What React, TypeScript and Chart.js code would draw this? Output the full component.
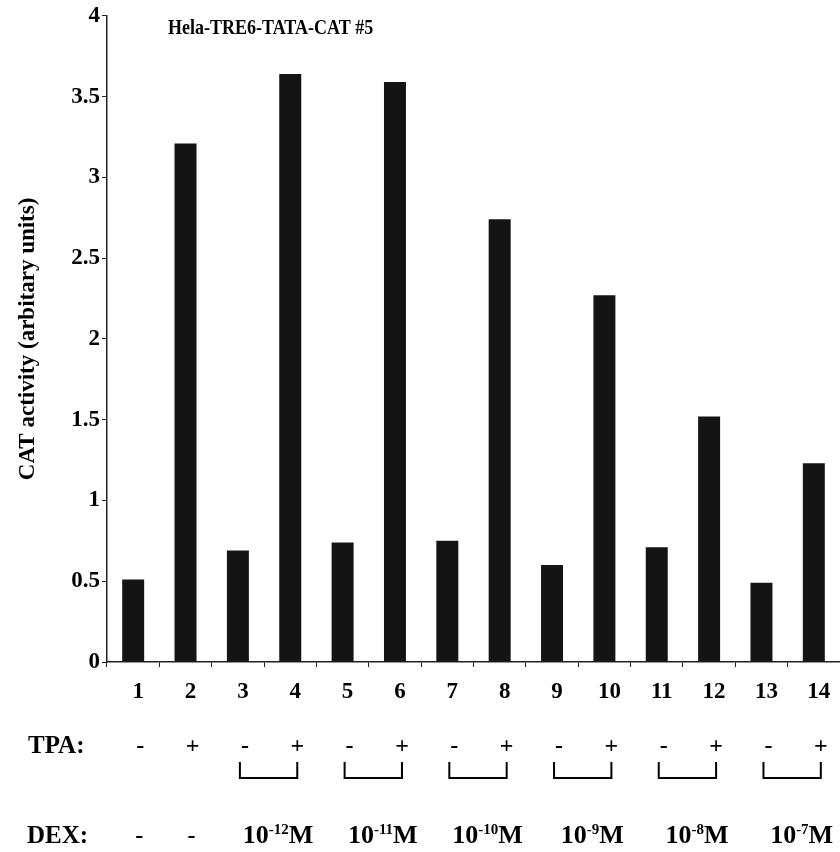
import React, { useEffect, useRef } from 'react';
import { Chart, registerables } from 'chart.js';

Chart.register(...registerables);

const categories = ['1', '2', '3', '4', '5', '6', '7', '8', '9', '10', '11', '12', '13', '14'];
const activity = [0.51, 3.21, 0.69, 3.64, 0.74, 3.59, 0.75, 2.74, 0.6, 2.27, 0.71, 1.52, 0.49, 1.23];
const tpaSigns = ['-', '+', '-', '+', '-', '+', '-', '+', '-', '+', '-', '+', '-', '+'];
const dexSingles = ['-', '-'];
const dexPairs = [[3, 4], [5, 6], [7, 8], [9, 10], [11, 12], [13, 14]];
const dexExponents = ['-12', '-11', '-10', '-9', '-8', '-7'];
const chartTitle = 'Hela-TRE6-TATA-CAT #5';
const yTitle = 'CAT activity (arbitary units)';
const tpaLabel = 'TPA:';
const dexLabel = 'DEX:';

const SERIF = '"Liberation Serif", "Times New Roman", serif';

const laneAnnotations = {
  id: 'laneAnnotations',
  afterDraw(chart: any) {
    const { ctx, chartArea } = chart;
    const x = chart.scales.x;
    const cx = (lane: number) => x.getPixelForValue(lane - 1);
    ctx.save();
    ctx.fillStyle = '#000';
    ctx.strokeStyle = '#000';

    // chart title inside plot (slightly tall type, as in the scan)
    ctx.save();
    const tx = chartArea.left + 61;
    const ty = chartArea.top + 18;
    ctx.translate(tx, ty);
    ctx.scale(1, 1.2);
    ctx.font = `bold 18px ${SERIF}`;
    ctx.textAlign = 'left';
    ctx.textBaseline = 'alphabetic';
    ctx.fillText(chartTitle, 0, 0);
    ctx.restore();

    ctx.textBaseline = 'alphabetic';

    // TPA row
    const tpaBase = 753;
    ctx.font = `bold 25px ${SERIF}`;
    ctx.textAlign = 'left';
    ctx.fillText(tpaLabel, 28, tpaBase);
    ctx.textAlign = 'center';
    ctx.font = `bold 24px ${SERIF}`;
    tpaSigns.forEach((s, i) => {
      ctx.fillText(s, cx(i + 1) + 7, tpaBase);
    });

    // brackets
    ctx.lineWidth = 2;
    dexPairs.forEach(([a, b]) => {
      const l = cx(a) + 2;
      const r = cx(b) + 7;
      ctx.beginPath();
      ctx.moveTo(l, 762);
      ctx.lineTo(l, 778);
      ctx.lineTo(r, 778);
      ctx.lineTo(r, 762);
      ctx.stroke();
    });

    // DEX row
    const dexBase = 843;
    ctx.font = `bold 25px ${SERIF}`;
    ctx.textAlign = 'left';
    ctx.fillText(dexLabel, 27, dexBase);
    ctx.textAlign = 'center';
    ctx.font = `bold 24px ${SERIF}`;
    dexSingles.forEach((s, i) => {
      ctx.fillText(s, cx(i + 1) + 6, dexBase);
    });
    ctx.textAlign = 'left';
    dexPairs.forEach(([a, b], i) => {
      const mid = (cx(a) + cx(b)) / 2 + 14;
      const bigFont = `bold 26px ${SERIF}`;
      const supFont = `bold 15px ${SERIF}`;
      ctx.font = bigFont;
      const w10 = ctx.measureText('10').width;
      const wM = ctx.measureText('M').width;
      ctx.font = supFont;
      const wSup = ctx.measureText(dexExponents[i]).width;
      const total = w10 + wSup + wM;
      let px = mid - total / 2;
      ctx.font = bigFont;
      ctx.fillText('10', px, dexBase);
      px += w10;
      ctx.font = supFont;
      ctx.fillText(dexExponents[i], px, dexBase - 9);
      px += wSup;
      ctx.font = bigFont;
      ctx.fillText('M', px, dexBase);
    });
    ctx.restore();
  },
};

export default function App() {
  const canvasRef = useRef<HTMLCanvasElement | null>(null);

  useEffect(() => {
    if (!canvasRef.current) return;
    const chart = new Chart(canvasRef.current, {
      type: 'bar',
      data: {
        labels: categories,
        datasets: [
          {
            data: activity,
            backgroundColor: '#141414',
            borderWidth: 0,
            barPercentage: 0.42,
            categoryPercentage: 1,
          },
        ],
      },
      options: {
        responsive: false,
        animation: false,
        layout: { padding: { top: 14, left: 0, right: 0, bottom: 0 } },
        plugins: {
          legend: { display: false },
          tooltip: { enabled: false },
          title: { display: false },
        },
        scales: {
          x: {
            offset: true,
            grid: {
              offset: true,
              drawOnChartArea: false,
              drawTicks: true,
              tickLength: 5,
              color: '#222',
              lineWidth: 1,
            },
            border: { display: true, color: '#222', width: 1.5 },
            ticks: {
              color: '#000',
              font: { family: SERIF, size: 23, weight: 'bold' },
              padding: 11,
              labelOffset: 5,
              maxRotation: 0,
              autoSkip: false,
            },
            afterFit: (s: any) => {
              s.height = 190;
            },
          },
          y: {
            min: 0,
            max: 4,
            grid: {
              drawOnChartArea: false,
              drawTicks: true,
              tickLength: 5,
              color: '#222',
            },
            border: { display: true, color: '#222', width: 1.5 },
            ticks: {
              stepSize: 0.5,
              color: '#000',
              font: { family: SERIF, size: 23, weight: 'bold' },
              padding: 2,
              callback: (v: any) => String(v),
            },
            title: {
              display: true,
              text: yTitle,
              color: '#000',
              font: { family: SERIF, size: 23, weight: 'bold' },
              padding: { top: 14, bottom: 0 },
            },
            afterFit: (s: any) => {
              s.width = 107;
            },
          },
        },
      },
      plugins: [laneAnnotations],
    });
    return () => chart.destroy();
  }, []);

  return (
    <div style={{ position: 'absolute', left: 0, top: 0, width: 840, height: 852, background: '#fff' }}>
      <canvas ref={canvasRef} width={840} height={852} />
    </div>
  );
}
